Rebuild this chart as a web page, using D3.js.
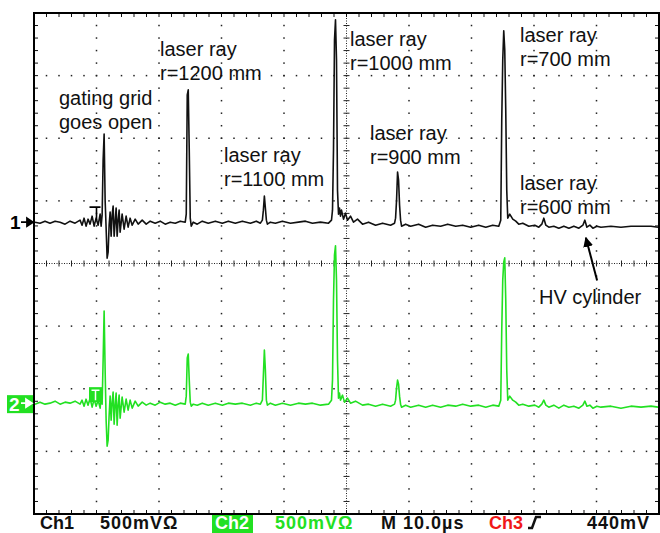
<!DOCTYPE html>
<html>
<head>
<meta charset="utf-8">
<script src="https://cdn.jsdelivr.net/npm/d3@7/dist/d3.min.js"></script>
<style>
  body { margin: 0; background: #fff; }
  svg { display: block; }
</style>
</head>
<body>
<div id="scope"></div>
<script>
// time in µs, signal in mV, 500 mV/div, 10 µs/div
var ch1 = [
  [0.16,0],[0.96,-8],[1.76,8],[2.56,-8],[3.37,8],[4.17,0],[4.97,-16],[5.77,8],[6.57,-8],
  [7.37,16],[7.69,-24],[8.01,32],[8.33,-32],[8.65,24],[8.97,-16],[9.30,48],[9.62,-32],
  [9.94,32],[10.26,-24],[10.58,64],[10.74,-32],[10.90,56],[11.06,496],[11.22,704],
  [11.38,176],[11.54,-48],[11.70,-288],[11.86,-240],[12.02,-24],[12.18,80],[12.34,-112],
  [12.50,56],[12.66,128],[12.82,-112],[12.98,0],[13.14,112],[13.30,-112],[13.46,16],
  [13.62,96],[13.78,-80],[14.10,64],[14.42,-56],[14.74,48],[15.06,-40],[15.38,32],
  [15.71,-24],[16.19,24],[16.67,-16],[17.31,16],[17.95,-16],[18.59,8],[19.39,-8],
  [20.19,8],[20.99,-16],[21.79,0],[22.60,-8],[23.40,8],[24.20,0],[24.36,64],[24.52,1016],
  [24.68,1056],[24.84,576],[25.00,32],[25.16,-32],[25.48,0],[26.12,-16],[26.92,8],
  [27.88,-8],[29.01,8],[30.13,-8],[31.09,8],[32.21,-8],[33.33,8],[34.62,-8],[35.58,8],
  [36.22,-8],[36.54,16],[36.70,96],[36.86,208],[37.02,112],[37.18,16],[37.34,-16],
  [37.82,0],[38.62,-8],[39.74,8],[41.03,-8],[42.31,0],[43.43,8],[44.55,-8],[45.83,0],
  [47.12,-8],[47.60,16],[47.76,96],[47.92,576],[48.08,1456],[48.24,1616],[48.40,1296],
  [48.56,256],[48.72,64],[48.88,112],[49.04,48],[49.20,96],[49.52,24],[49.84,72],
  [50.16,16],[50.64,48],[51.12,0],[51.76,24],[52.56,-16],[53.53,0],[54.65,-24],
  [55.77,-8],[57.05,-24],[57.69,-8],[57.85,32],[58.01,176],[58.17,400],[58.33,336],
  [58.49,136],[58.65,16],[58.81,-32],[59.46,-16],[60.26,-32],[61.54,-16],[62.66,-40],
  [63.78,-24],[65.06,-32],[66.19,-16],[67.47,-32],[68.59,-24],[69.87,-40],[71.15,-24],
  [72.28,-40],[73.40,-24],[74.36,-32],[74.68,16],[74.84,816],[75.00,1296],[75.16,1528],
  [75.32,1376],[75.48,896],[75.64,256],[75.80,32],[76.12,64],[76.60,24],[77.08,8],
  [77.56,-16],[78.21,-8],[79.17,-32],[80.13,-24],[80.77,-40],[81.25,-16],[81.57,32],
  [81.89,-24],[82.37,-40],[83.17,-32],[83.97,-48],[84.78,-32],[85.58,-48],[86.38,-32],
  [87.18,-48],[87.82,-24],[88.14,16],[88.46,-40],[88.94,-24],[89.42,-48],[90.06,-32],
  [90.71,-40],[92.31,-32],[93.91,-40],[95.51,-32],[97.12,-32],[98.72,-32],[99.84,-40]
];

var ch2 = [
  [0.16,-8],[0.96,8],[1.76,-8],[2.56,0],[3.37,16],[4.17,-8],[4.97,8],[5.77,0],[6.57,16],
  [7.37,-8],[7.69,24],[8.01,-24],[8.33,32],[8.65,-16],[8.97,40],[9.30,-32],[9.62,32],
  [9.94,-24],[10.26,24],[10.58,-40],[10.74,56],[10.90,-8],[11.06,344],[11.22,736],
  [11.38,264],[11.54,-136],[11.70,-344],[11.86,-296],[12.02,-96],[12.18,56],[12.34,-136],
  [12.50,8],[12.66,88],[12.82,-168],[12.98,-16],[13.14,80],[13.30,-176],[13.46,-16],
  [13.62,64],[13.78,-120],[14.10,48],[14.42,-72],[14.74,32],[15.06,-56],[15.38,24],
  [15.71,-40],[16.19,16],[16.67,-24],[17.31,8],[17.95,-16],[18.59,0],[19.39,-16],
  [20.19,8],[20.99,-8],[21.79,0],[22.60,-16],[23.40,0],[24.20,-8],[24.36,56],[24.52,360],
  [24.68,392],[24.84,184],[25.00,8],[25.16,-24],[25.48,-8],[26.12,-16],[26.92,0],
  [27.88,-16],[29.01,0],[30.13,-16],[31.09,0],[32.21,-8],[33.33,0],[34.62,-16],[35.58,0],
  [36.22,-8],[36.54,24],[36.70,224],[36.86,424],[37.02,264],[37.18,24],[37.34,-16],
  [37.82,0],[38.62,-16],[39.74,0],[41.03,-16],[42.31,0],[43.43,-8],[44.55,0],[45.83,-16],
  [47.12,-8],[47.60,24],[47.76,184],[47.92,824],[48.08,1184],[48.24,1256],[48.40,984],
  [48.56,344],[48.72,40],[48.88,80],[49.04,24],[49.36,64],[49.68,8],[50.16,40],
  [50.64,0],[51.44,16],[52.56,-16],[53.53,-8],[54.65,-24],[55.77,-8],[57.05,-24],
  [57.69,-8],[57.85,24],[58.01,120],[58.17,184],[58.33,152],[58.49,56],[58.65,-8],
  [58.81,-32],[59.46,-16],[60.26,-32],[61.54,-16],[62.66,-32],[63.78,-16],[65.06,-32],
  [66.19,-16],[67.47,-24],[68.59,-8],[69.87,-24],[71.15,-16],[72.28,-32],[73.40,-16],
  [74.36,-24],[74.68,24],[74.84,584],[75.00,984],[75.16,1128],[75.32,1160],[75.48,824],
  [75.64,264],[75.80,24],[76.12,56],[76.60,24],[77.08,8],[77.56,-16],[78.21,-8],
  [79.17,-24],[80.13,-16],[80.77,-32],[81.25,-8],[81.57,24],[81.89,-16],[82.37,-32],
  [83.17,-16],[83.97,-40],[84.78,-16],[85.58,-32],[86.38,-24],[87.18,-40],[87.82,-16],
  [88.14,16],[88.46,-24],[88.94,-16],[89.42,-40],[90.06,-24],[90.71,-32],[92.31,-24],
  [93.91,-40],[95.51,-24],[97.12,-32],[98.72,-24],[99.84,-32]
];

var ch1Offset = 0.66;   // divisions above centre
var ch2Offset = -2.23;
var mVperDiv = 500;
var triggerTime = 10;   // µs

// annotations: text lines, anchored at [µs, div] of first baseline
var notes = [
  { lines: ["gating grid", "goes open"], t: 4.0, v: 2.53 },
  { lines: ["laser ray", "r=1200 mm"], t: 20.16, v: 3.31 },
  { lines: ["laser ray", "r=1100 mm"], t: 30.4, v: 1.62 },
  { lines: ["laser ray", "r=1000 mm"], t: 50.56, v: 3.47 },
  { lines: ["laser ray", "r=900 mm"], t: 53.76, v: 1.97 },
  { lines: ["laser ray", "r=700 mm"], t: 77.76, v: 3.54 },
  { lines: ["laser ray", "r=600 mm"], t: 77.76, v: 1.17 },
  { lines: ["HV cylinder"], t: 80.8, v: -0.65 }
];
var arrowFrom = [90.1, -0.27], arrowTo = [88.3, 0.41];

var footerText = ["Ch1", "500mVΩ", "Ch2", "500mVΩ", "M 10.0µs", "Ch3", "440mV"];

var green = "#22e022";

var svg = d3.select("#scope").append("svg")
  .attr("width", 660)
  .attr("height", 533);

var x = d3.scaleLinear().domain([0, 100]).range([34, 659]);
var y = d3.scaleLinear().domain([-4, 4]).range([514, 13]);

// graticule
var grid = svg.append("g").attr("fill", "#222");
var minorX = d3.range(0, 100.01, 2);
var minorY = d3.range(-4, 4.001, 0.2);
d3.range(10, 100, 10).filter(function(t) { return t != 50; }).forEach(function(t) {
  grid.selectAll(null).data(minorY).enter().append("rect")
    .attr("x", x(t) - 0.75).attr("y", function(v) { return y(v) - 0.75; })
    .attr("width", 1.5).attr("height", 1.5);
});
d3.range(-3, 4, 1).filter(function(v) { return v != 0; }).forEach(function(v) {
  grid.selectAll(null).data(minorX).enter().append("rect")
    .attr("x", function(t) { return x(t) - 0.75; }).attr("y", y(v) - 0.75)
    .attr("width", 1.5).attr("height", 1.5);
});

// centre cross, dense dots with small ticks
var cross = svg.append("g").attr("stroke", "#222").attr("stroke-width", 1);
cross.append("line").attr("x1", x(0)).attr("x2", x(100)).attr("y1", y(0)).attr("y2", y(0))
  .attr("stroke-dasharray", "1,1.5");
cross.append("line").attr("x1", x(50)).attr("x2", x(50)).attr("y1", y(4)).attr("y2", y(-4))
  .attr("stroke-dasharray", "1,1.5");
cross.selectAll(null).data(minorX).enter().append("line")
  .attr("x1", function(t) { return x(t); }).attr("x2", function(t) { return x(t); })
  .attr("y1", y(0) - 3).attr("y2", y(0) + 3);
cross.selectAll(null).data(minorY).enter().append("line")
  .attr("y1", function(v) { return y(v); }).attr("y2", function(v) { return y(v); })
  .attr("x1", x(50) - 3).attr("x2", x(50) + 3);

// border ticks
var ticks = svg.append("g").attr("stroke", "#111").attr("stroke-width", 1);
ticks.selectAll(null).data(minorX).enter().append("line")
  .attr("x1", function(t) { return x(t); }).attr("x2", function(t) { return x(t); })
  .attr("y1", y(4)).attr("y2", y(4) + 4);
ticks.selectAll(null).data(minorX).enter().append("line")
  .attr("x1", function(t) { return x(t); }).attr("x2", function(t) { return x(t); })
  .attr("y1", y(-4)).attr("y2", y(-4) - 4);
ticks.selectAll(null).data(minorY).enter().append("line")
  .attr("y1", function(v) { return y(v); }).attr("y2", function(v) { return y(v); })
  .attr("x1", x(0)).attr("x2", x(0) + 4);
ticks.selectAll(null).data(minorY).enter().append("line")
  .attr("y1", function(v) { return y(v); }).attr("y2", function(v) { return y(v); })
  .attr("x1", x(100)).attr("x2", x(100) - 4);

svg.append("rect")
  .attr("x", x(0)).attr("y", y(4))
  .attr("width", x(100) - x(0)).attr("height", y(-4) - y(4))
  .attr("fill", "none").attr("stroke", "#000").attr("stroke-width", 2);

// annotations
var noteG = svg.append("g")
  .style("font-family", "'Liberation Sans', Arial, Helvetica, sans-serif")
  .style("font-size", "20px")
  .attr("fill", "#111");
notes.forEach(function(n) {
  n.lines.forEach(function(line, i) {
    noteG.append("text")
      .attr("x", x(n.t))
      .attr("y", y(n.v) + i * 24)
      .text(line);
  });
});

svg.append("defs").append("marker")
  .attr("id", "head").attr("viewBox", "0 0 10 10")
  .attr("refX", 9).attr("refY", 5)
  .attr("markerWidth", 5).attr("markerHeight", 5)
  .attr("markerUnits", "strokeWidth")
  .attr("orient", "auto")
  .append("path").attr("d", "M0,0L10,5L0,10z").attr("fill", "#000");
svg.append("line")
  .attr("x1", x(arrowFrom[0])).attr("y1", y(arrowFrom[1]))
  .attr("x2", x(arrowTo[0])).attr("y2", y(arrowTo[1]))
  .attr("stroke", "#000").attr("stroke-width", 2)
  .attr("marker-end", "url(#head)");

// traces
function traceLine(offset) {
  return d3.line()
    .x(function(d) { return x(d[0]); })
    .y(function(d) { return y(offset + d[1] / mVperDiv); });
}
svg.append("path").datum(ch1)
  .attr("fill", "none").attr("stroke", "#111").attr("stroke-width", 1.6)
  .attr("stroke-linejoin", "round")
  .attr("d", traceLine(ch1Offset));
svg.append("path").datum(ch2)
  .attr("fill", "none").attr("stroke", green).attr("stroke-width", 1.6)
  .attr("stroke-linejoin", "round")
  .attr("d", traceLine(ch2Offset));

// trigger markers
var tx = x(triggerTime);
var y1 = y(ch1Offset), y2 = y(ch2Offset);
svg.append("path")
  .attr("d", "M" + (tx - 7) + "," + (y1 - 15) + "H" + (tx + 4) + "M" + tx + "," + (y1 - 15) + "V" + (y1 - 2))
  .attr("stroke", "#000").attr("stroke-width", 1.6).attr("fill", "none");
svg.append("rect")
  .attr("x", tx - 7.5).attr("y", y2 - 16).attr("width", 13).attr("height", 15)
  .attr("fill", green);
svg.append("path")
  .attr("d", "M" + (tx - 5) + "," + (y2 - 13) + "H" + (tx + 3) + "M" + (tx - 1) + "," + (y2 - 13) + "V" + (y2 - 3))
  .attr("stroke", "#fff").attr("stroke-width", 1.5);

// channel markers
var bold = "'Liberation Sans', Arial, Helvetica, sans-serif";
svg.append("text").attr("x", 10).attr("y", y1 + 7)
  .style("font-family", bold).style("font-weight", "bold").style("font-size", "19px")
  .attr("fill", "#000").text("1");
svg.append("path")
  .attr("d", "M21," + y1 + "H29M27," + (y1 - 4) + "L33," + y1 + "L27," + (y1 + 4) + "z")
  .attr("stroke", "#000").attr("stroke-width", 1.8).attr("fill", "#000");
svg.append("rect").attr("x", 7).attr("y", y2 - 8).attr("width", 26).attr("height", 18)
  .attr("fill", green);
svg.append("text").attr("x", 9).attr("y", y2 + 8)
  .style("font-family", bold).style("font-weight", "bold").style("font-size", "19px")
  .attr("fill", "#fff").text("2");
svg.append("path")
  .attr("d", "M21," + y2 + "H28M26," + (y2 - 4) + "L32," + y2 + "L26," + (y2 + 4) + "z")
  .attr("stroke", "#fff").attr("stroke-width", 1.8).attr("fill", "#fff");

// footer
var footerX = [40, 100, 215, 275, 381, 489, 587];
var footerColor = ["#111", "#111", "#fff", green, "#111", "#f01818", "#111"];
svg.append("rect").attr("x", 212).attr("y", 515).attr("width", 41).attr("height", 18)
  .attr("fill", green);
svg.selectAll(".foot").data(footerText).enter().append("text")
  .attr("class", "foot")
  .attr("x", function(d, i) { return footerX[i]; })
  .attr("y", 529)
  .style("font-family", bold).style("font-weight", "bold").style("font-size", "18px")
  .style("letter-spacing", function(d) { return d.indexOf("Ch") == 0 ? "0px" : "1px"; })
  .attr("fill", function(d, i) { return footerColor[i]; })
  .text(function(d) { return d; });
svg.append("path")
  .attr("d", "M528,528H532L536,517H541")
  .attr("stroke", "#111").attr("stroke-width", 2.5).attr("fill", "none");
</script>
</body>
</html>
